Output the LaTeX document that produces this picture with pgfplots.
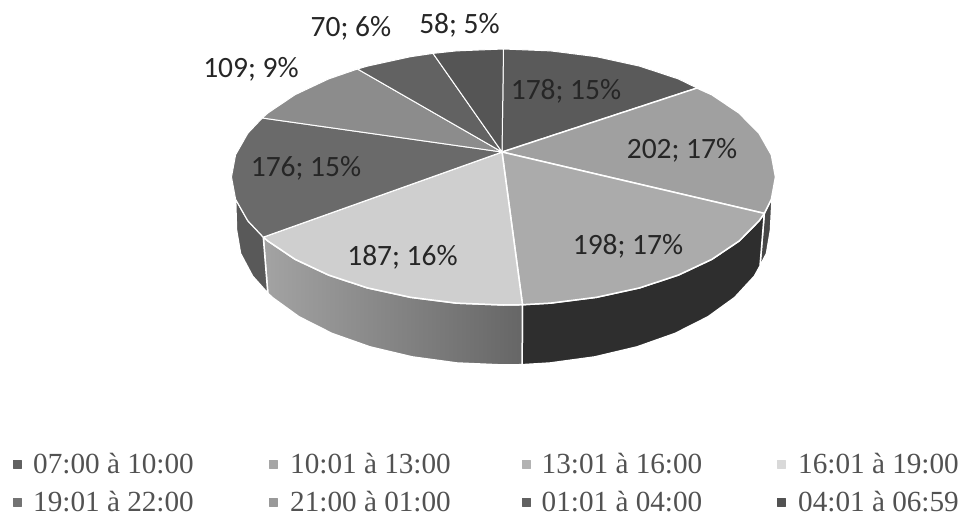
\documentclass[border=0pt]{standalone}
\usepackage{pgfplots}
\pgfplotsset{compat=1.18}
\usepackage{fontspec}
\setmainfont{Liberation Serif}
\newfontfamily\lab{Carlito}

\definecolor{s1}{HTML}{5A5A5A}
\definecolor{s2}{HTML}{A0A0A0}
\definecolor{s3}{HTML}{ABABAB}
\definecolor{s4}{HTML}{CFCFCF}
\definecolor{s5}{HTML}{6A6A6A}
\definecolor{s6}{HTML}{8C8C8C}
\definecolor{s7}{HTML}{626262}
\definecolor{s8}{HTML}{555555}

\begin{document}
\begin{tikzpicture}
\begin{axis}[
  scale only axis, width=962pt, height=516pt,
  xmin=0, xmax=962, ymin=0, ymax=516,
  y dir=reverse, axis lines=none, clip=false,
  every axis plot/.append style={line join=round},
]
% keeps the page as large as the axis
\path (axis cs:0,0) rectangle (axis cs:962,516);

% side walls
\addplot[draw=white, line width=1.5pt, fill=black!72] coordinates {
(764.3,213.4)(771.4,199.2)(773,192)(772,200)(770.5,230)(766.5,253.5)(760,266)(764.3,213.4)};
\addplot[draw=white, line width=1.5pt, fill=black!82] coordinates {
(764.3,213.4)(759.1,220.8)(739.1,241)(711.9,259.3)(678.3,275.1)(639.5,287.9)(596.5,297.3)(550.7,303.1)(522.5,304.7)
(522.1,364.7)(550,363)(594.8,356.9)(637,346.9)(675.2,333.4)(708,316.8)(734.7,297.5)(754.4,276.2)(760,266)(764.3,213.4)};
\addplot[draw=white, line width=1.5pt, left color=black!36, right color=black!60] coordinates {
(522.5,304.7)(503.5,305)(456.3,303.1)(410.5,297.3)(367.5,287.9)(328.7,275.1)(295.1,259.3)(267.9,241)(263.3,237.1)
(267.8,293.2)(272.3,297.5)(299,316.8)(331.8,333.4)(370,346.9)(412.2,356.9)(457,363)(503.5,365)(522.1,364.7)(522.5,304.7)};
\addplot[draw=white, line width=1.5pt, fill=black!65] coordinates {
(263.3,237.1)(247.9,220.8)(235.6,199.2)(236.5,230)(240.5,253.5)(252.6,276.2)(267.8,293.2)(263.3,237.1)};

% top slices
\addplot[draw=white, line width=1pt, fill=s1] coordinates { % 178
(502,152)(503.5,49)(550.7,50.9)(596.5,56.7)(639.5,66.1)(678.3,78.9)(697,88)(502,152)};
\addplot[draw=white, line width=1.5pt, fill=s2] coordinates { % 202
(502,152)(697,88)(711.9,94.7)(739.1,113)(759.1,133.2)(771.4,154.8)(775.5,177)(771.4,199.2)(764.3,213.4)(502,152)};
\addplot[draw=white, line width=1.5pt, fill=s3] coordinates { % 198
(502,152)(764.3,213.4)(759.1,220.8)(739.1,241)(711.9,259.3)(678.3,275.1)(639.5,287.9)(596.5,297.3)(550.7,303.1)(522.5,304.7)(502,152)};
\addplot[draw=white, line width=1.5pt, fill=s4] coordinates { % 187
(502,152)(522.5,304.7)(503.5,305)(456.3,303.1)(410.5,297.3)(367.5,287.9)(328.7,275.1)(295.1,259.3)(267.9,241)(263.3,237.1)(502,152)};
\addplot[draw=white, line width=1pt, fill=s5] coordinates { % 176
(502,152)(263.3,237.1)(247.9,220.8)(235.6,199.2)(231.5,177)(235.6,154.8)(247.9,133.2)(262.3,118)(502,152)};
\addplot[draw=white, line width=1pt, fill=s6] coordinates { % 109
(502,152)(262.3,118)(267.9,113)(295.1,94.7)(328.7,78.9)(357.5,69)(502,152)};
\addplot[draw=white, line width=1pt, fill=s7] coordinates { % 70
(502,152)(357.5,69)(367.5,66.1)(410.5,56.7)(433,53.4)(502,152)};
\addplot[draw=white, line width=1pt, fill=s8] coordinates { % 58
(502,152)(433,53.4)(456.3,50.9)(503.5,49)(502,152)};

% data labels
\begin{scope}[every node/.style={font=\lab\fontsize{29.5}{31}\selectfont, text=black!85, inner sep=0pt}]
\node at (axis cs:566,91) {178; 15\%};
\node at (axis cs:682,150) {202; 17\%};
\node at (axis cs:628,246) {198; 17\%};
\node at (axis cs:402.5,257) {187; 16\%};
\node at (axis cs:306,168) {176; 15\%};
\node at (axis cs:251,69) {109; 9\%};
\node at (axis cs:351,28) {70; 6\%};
\node at (axis cs:459.5,25) {58; 5\%};
\end{scope}

% legend
\addplot[only marks, mark=square*, mark size=4pt, black!62] coordinates {(17,464)};
\addplot[only marks, mark=square*, mark size=4pt, black!35] coordinates {(272.7,464)};
\addplot[only marks, mark=square*, mark size=4pt, black!30] coordinates {(526,464)};
\addplot[only marks, mark=square*, mark size=4pt, black!15] coordinates {(781,464)};
\addplot[only marks, mark=square*, mark size=4pt, black!55] coordinates {(17,502)};
\addplot[only marks, mark=square*, mark size=4pt, black!40] coordinates {(272.7,502)};
\addplot[only marks, mark=square*, mark size=4pt, black!62] coordinates {(526,502)};
\addplot[only marks, mark=square*, mark size=4pt, black!68] coordinates {(781,502)};
\begin{scope}[every node/.style={font=\fontsize{29.2}{31}\selectfont, text=black!68, inner sep=0pt, anchor=west}]
\node at (axis cs:33,464) {07:00 à 10:00};
\node at (axis cs:290,464) {10:01 à 13:00};
\node at (axis cs:541.5,464) {13:01 à 16:00};
\node at (axis cs:798,464) {16:01 à 19:00};
\node at (axis cs:33,502) {19:01 à 22:00};
\node at (axis cs:290,502) {21:00 à 01:00};
\node at (axis cs:541.5,502) {01:01 à 04:00};
\node at (axis cs:798,502) {04:01 à 06:59};
\end{scope}
\end{axis}
\end{tikzpicture}
\end{document}
